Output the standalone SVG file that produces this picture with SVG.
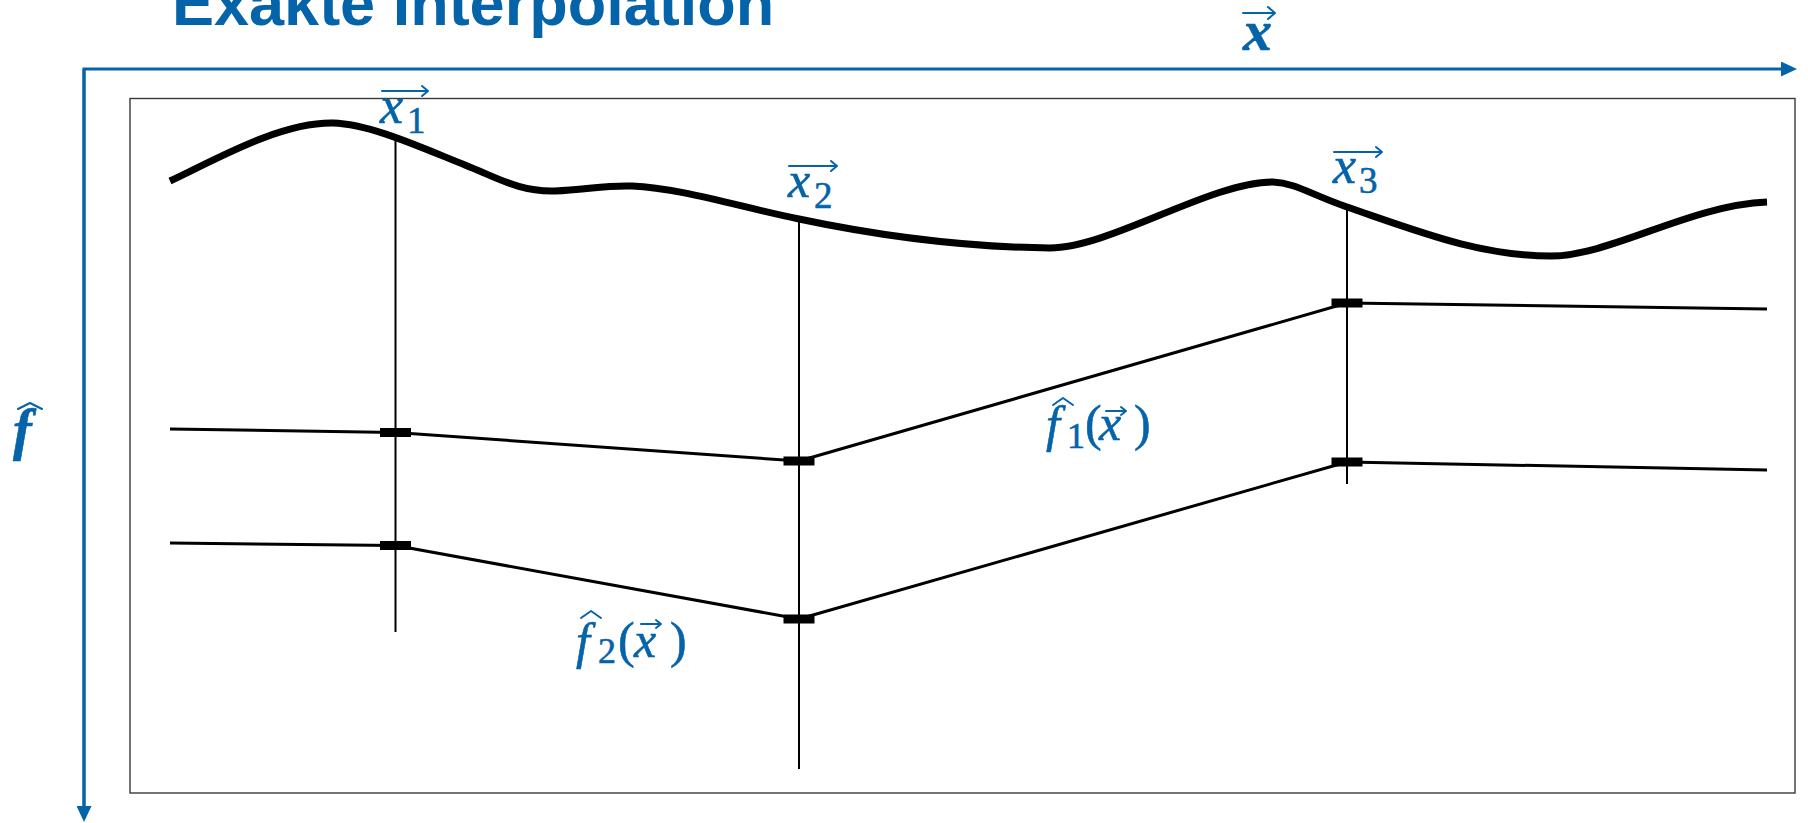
<svg xmlns="http://www.w3.org/2000/svg" width="1808" height="823" viewBox="0 0 1808 823">
<style>
.blue{fill:#0563AA}
.axis{stroke:#0563AA;stroke-width:3;fill:none}
.vec{stroke:#0563AA;stroke-width:2;fill:none;stroke-linecap:round;stroke-linejoin:round}
.lbl{font-family:"Liberation Serif","DejaVu Serif",serif;fill:#0563AA;stroke:#0563AA;stroke-width:0.6}
.it{font-style:italic}
.thin{stroke:#000;stroke-width:2;fill:none}
.poly{stroke:#000;stroke-width:3;fill:none;stroke-linejoin:round}
.bar{fill:#000}
.title{font-family:"Liberation Sans",Arial,sans-serif;font-weight:bold;font-size:63px;fill:#0563AA}
</style>
<defs>
<marker id="ah" viewBox="0 0 16 15" refX="0" refY="7.5" markerWidth="16" markerHeight="15" markerUnits="userSpaceOnUse" orient="auto">
<path d="M0,0 L16,7.5 L0,15 Z" fill="#0563AA"/>
</marker>
</defs>
<rect width="1808" height="823" fill="#fff"/>
<g id="title"><text class="title" x="172" y="25">Exakte Interpolation</text></g>
<g id="frame"><rect x="130" y="98.5" width="1665" height="694.5" fill="none" stroke="#3a3a3a" stroke-width="1.4"/></g>
<g id="connectors">
<path class="axis" d="M84,806 V69 H1781" marker-end="url(#ah)"/>
<path class="axis" d="M84,69 V806" marker-end="url(#ah)"/>
<path id="curve" d="M170,181 C215,160 280,122 333,123 C370,124 420,147 465,165 C500,179 520,192 555,191 C585,190 605,185 632,186 C680,188 740,207 799,219 C870,234 960,247 1050,248 C1110,248 1210,182 1273,182 C1295,183 1310,194 1347,207 C1420,232 1480,256 1551,256 C1610,256 1690,205 1767,202" fill="none" stroke="#000" stroke-width="7"/>
<line class="thin" x1="395.5" y1="138" x2="395.5" y2="632"/>
<line class="thin" x1="799" y1="219" x2="799" y2="769"/>
<line class="thin" x1="1347" y1="207" x2="1347" y2="484"/>
<polyline id="f1" class="poly" points="170,429 395.5,432.5 799,461 1347,303 1767,309"/>
<polyline id="f2" class="poly" points="170,543 395.5,545.5 799,619 1347,462 1767,470"/>
</g>
<g id="bars">
<rect class="bar" x="380" y="428" width="31" height="9"/>
<rect class="bar" x="380" y="541" width="31" height="9"/>
<rect class="bar" x="783.5" y="456.5" width="31" height="9"/>
<rect class="bar" x="783.5" y="614.5" width="31" height="9"/>
<rect class="bar" x="1331.5" y="298.5" width="31" height="9"/>
<rect class="bar" x="1331.5" y="457.5" width="31" height="9"/>
</g>
<g id="label-x-axis">
<text class="lbl it" x="1243" y="50" font-size="58" font-weight="bold">x</text>
<path class="vec" stroke-width="3" d="M1243,13 H1275 M1268,7 L1275,13 L1268,19"/>
</g>
<g id="label-f-axis">
<text class="lbl it" x="13" y="449" font-size="56" font-weight="bold">f</text>
<path class="vec" stroke-width="2.5" d="M18,409 L30,403 L42,409"/>
</g>
<g id="label-x1">
<text class="lbl" y="123" font-size="52"><tspan class="it" x="380">x</tspan><tspan x="407" y="133" font-size="37">1</tspan></text>
<path class="vec" d="M382,91 H428 M422,86 L428,91 L422,96"/>
</g>
<g id="label-x2">
<text class="lbl" y="197" font-size="50"><tspan class="it" x="788">x</tspan><tspan x="814" y="208" font-size="37">2</tspan></text>
<path class="vec" d="M789,166 H837 M831,161 L837,166 L831,171"/>
</g>
<g id="label-x3">
<text class="lbl" y="183" font-size="52"><tspan class="it" x="1333">x</tspan><tspan x="1359" y="193" font-size="37">3</tspan></text>
<path class="vec" d="M1334,152 H1382 M1376,147 L1382,152 L1376,157"/>
</g>
<g id="label-f1">
<text class="lbl" y="441" font-size="50"><tspan class="it" x="1046">f</tspan><tspan x="1067" y="448" font-size="36">1</tspan><tspan x="1085" y="440">(</tspan><tspan class="it" x="1099">x</tspan><tspan x="1134">)</tspan></text>
<path class="vec" d="M1053,405 L1063,398 L1073,405"/>
<path class="vec" d="M1106,411 H1126 M1121,407 L1126,411 L1121,415"/>
</g>
<g id="label-f2">
<text class="lbl" y="658" font-size="50"><tspan class="it" x="576">f</tspan><tspan x="598" y="663" font-size="36">2</tspan><tspan x="618" y="657">(</tspan><tspan class="it" x="634">x</tspan><tspan x="670">)</tspan></text>
<path class="vec" d="M581,618 L591,611 L601,618"/>
<path class="vec" d="M641,624 H661 M656,620 L661,624 L656,628"/>
</g>
</svg>
